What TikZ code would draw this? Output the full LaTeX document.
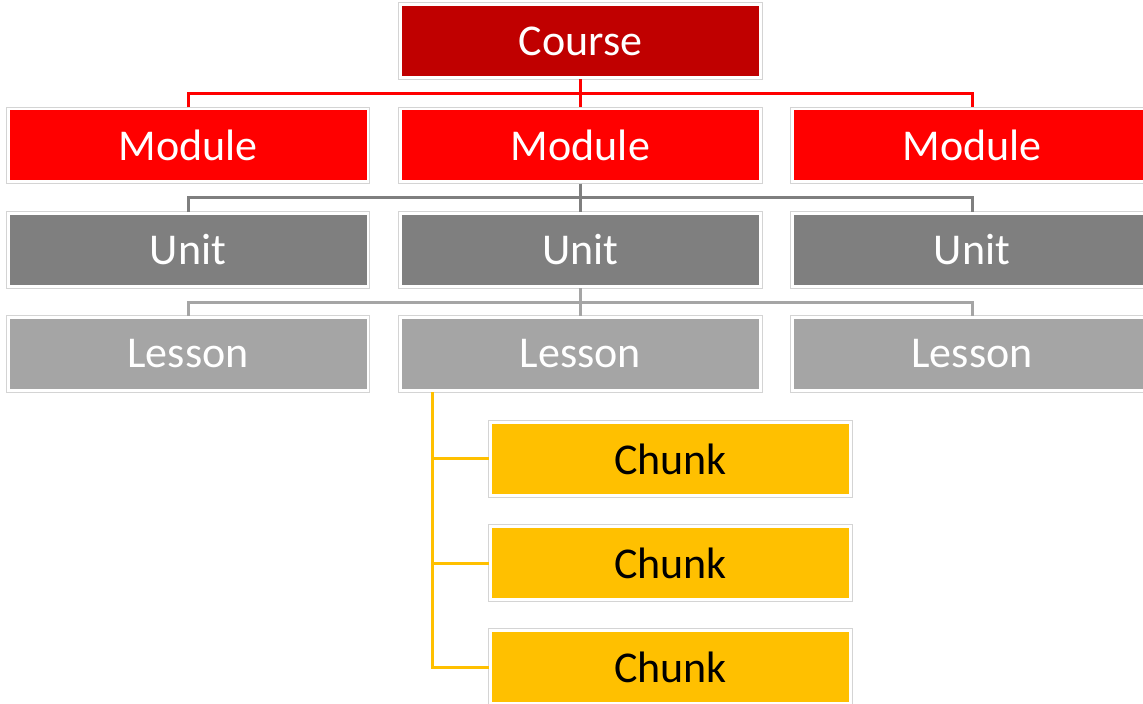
\documentclass[tikz,border=0pt]{standalone}
\usepackage{fontspec}
\setmainfont{Carlito}
\usetikzlibrary{calc}
\definecolor{coursered}{HTML}{C00000}
\definecolor{modred}{HTML}{FF0000}
\definecolor{unitgray}{HTML}{7F7F7F}
\definecolor{lessongray}{HTML}{A5A5A5}
\definecolor{chunkgold}{HTML}{FFC000}
\definecolor{framegray}{HTML}{D4D4D4}
\tikzset{
  tier/.style={fill=#1, minimum width=178.5pt, minimum height=35pt,
    inner sep=0pt, outer sep=1.6pt, text=white, font=\fontsize{22}{26}\selectfont},
  chunkbox/.style={tier=chunkgold, text=black},
  frame/.style={draw=framegray, line width=0.5pt},
  link/.style={line width=1.5pt, draw=#1}
}
\begin{document}
\begin{tikzpicture}[x=0.5pt, y=-0.5pt]
\clip (0,0) rectangle (1143,704);
\fill[white] (0,0) rectangle (1143,704);

% course and modules
\node[tier=coursered] (course) at (580.5,41) {Course};
\node[tier=modred] (m1) at (188,145.5) {Module};
\node[tier=modred] (m2) at (580.5,145.5) {Module};
\node[tier=modred] (m3) at (972,145.5) {Module};
% units
\node[tier=unitgray] (u1) at (188,250) {Unit};
\node[tier=unitgray] (u2) at (580.5,250) {Unit};
\node[tier=unitgray] (u3) at (972,250) {Unit};
% lessons
\node[tier=lessongray] (l1) at (188,354) {Lesson};
\node[tier=lessongray] (l2) at (580.5,354) {Lesson};
\node[tier=lessongray] (l3) at (972,354) {Lesson};
% chunks
\node[chunkbox] (c1) at (670.5,459) {Chunk};
\node[chunkbox] (c2) at (670.5,563) {Chunk};
\node[chunkbox] (c3) at (670.5,667) {Chunk};

% thin outer frames
\foreach \n in {course,m1,m2,m3,u1,u2,u3,l1,l2,l3,c1,c2,c3}
  \draw[frame] (\n.north west) rectangle (\n.south east);

% tree connectors
\draw[link=modred] (course.south) -- (m2.north);
\draw[link=modred] (m1.north) -- ++(0,-14) -| (m3.north);
\draw[link=unitgray] (m2.south) -- (u2.north);
\draw[link=unitgray] (u1.north) -- ++(0,-14) -| (u3.north);
\draw[link=lessongray] (u2.south) -- (l2.north);
\draw[link=lessongray] (l1.north) -- ++(0,-13) -| (l3.north);

% chunk spine
\coordinate (spine) at ($(l2.south west)+(34,0)$);
\draw[link=chunkgold] (spine) |- (c3.west);
\draw[link=chunkgold] (spine |- c1.west) -- (c1.west);
\draw[link=chunkgold] (spine |- c2.west) -- (c2.west);
\end{tikzpicture}
\end{document}
